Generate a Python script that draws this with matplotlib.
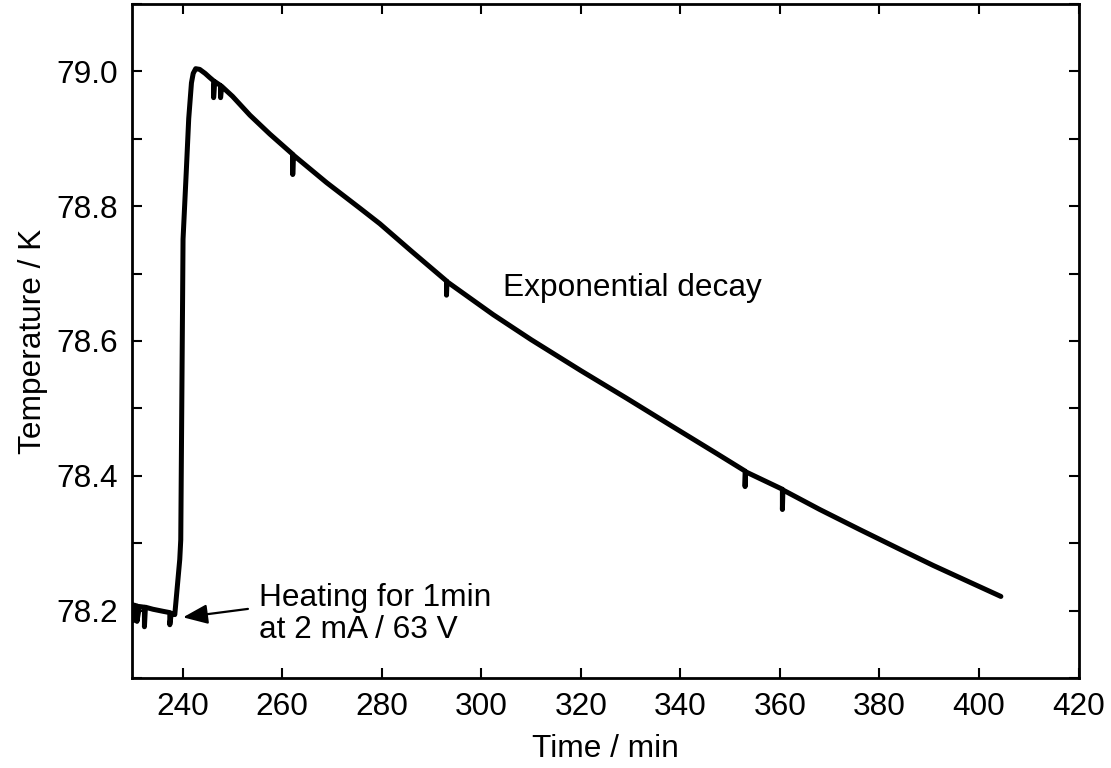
import matplotlib
matplotlib.use("Agg")
import matplotlib.pyplot as plt
from matplotlib.ticker import MultipleLocator

plt.rcParams['font.family'] = ['Liberation Sans', 'DejaVu Sans']

# Time (min) and temperature (K) (spikes included)
time_min = [229.9, 229.9, 230.3, 230.3, 230.8, 230.8, 231.3, 232.3, 232.3, 232.5,
            234.0, 236.0, 237.4, 237.4, 237.7, 238.4, 239.4, 239.6, 240.06, 240.7,
            241.2, 241.75, 242.1, 242.6, 243.4, 244.5, 245.4, 246.2, 246.2, 246.4,
            247.6, 247.6, 247.8, 250.0, 253.5, 257.5, 262.1, 262.1, 262.2, 268.9,
            275.6, 279.6, 286.0, 293.0, 293.0, 293.1, 302.4, 310.0, 320.0, 329.2,
            338.0, 347.3, 353.0, 353.0, 353.1, 360.5, 360.5, 360.6, 368.0, 376.1,
            384.1, 390.8, 397.0, 404.4]
temp_K = [78.209, 78.185, 78.208, 78.186, 78.207, 78.184, 78.206, 78.205, 78.176, 78.205,
          78.202, 78.199, 78.197, 78.179, 78.196, 78.194, 78.276, 78.305, 78.751, 78.850,
          78.930, 78.983, 78.997, 79.004, 79.003, 78.997, 78.991, 78.986, 78.961, 78.985,
          78.979, 78.961, 78.978, 78.963, 78.935, 78.907, 78.877, 78.847, 78.876, 78.835,
          78.797, 78.774, 78.733, 78.689, 78.668, 78.688, 78.639, 78.602, 78.556, 78.515,
          78.475, 78.433, 78.407, 78.384, 78.406, 78.380, 78.350, 78.379, 78.350, 78.320,
          78.291, 78.267, 78.246, 78.221]

x_ticks = [240, 260, 280, 300, 320, 340, 360, 380, 400, 420]
y_ticks = [78.2, 78.4, 78.6, 78.8, 79.0]
y_minor_step = 0.1

label_decay = "Exponential decay"
label_heat = "Heating for 1min\nat 2 mA / 63 V"
decay_pos = (304.4, 78.6665)
heat_text_pos = (255.4, 78.1593)
arrow_tail = (253.1, 78.2025)
arrow_tip = (240.06, 78.190)

fig = plt.figure(figsize=(11.11, 7.68), dpi=100)
ax = fig.add_axes([0.1188, 0.1172, 0.8524, 0.8776])

ax.plot(time_min, temp_K, color='black', lw=3.6, solid_joinstyle='round',
        solid_capstyle='round')

ax.set_xlim(229.8, 420.1)
ax.set_ylim(78.1, 79.1)
ax.set_xticks(x_ticks)
ax.set_yticks(y_ticks)
ax.yaxis.set_minor_locator(MultipleLocator(y_minor_step))
ax.set_yticklabels([f"{v:.1f}" for v in y_ticks])

fs = 22.8
ax.tick_params(axis='both', which='both', direction='in', top=True, right=True,
               length=7.2, width=1.5, labelsize=fs, pad=10)
for s in ax.spines.values():
    s.set_linewidth(2.0)

ax.set_xlabel("Time / min", fontsize=fs, labelpad=9)
ax.set_ylabel("Temperature / K", fontsize=fs, labelpad=6)

ax.text(decay_pos[0], decay_pos[1], label_decay, fontsize=fs, ha='left', va='baseline')
ax.text(heat_text_pos[0], heat_text_pos[1], label_heat, fontsize=fs, ha='left',
        va='baseline', linespacing=1.1)
ax.annotate('', xy=arrow_tip, xytext=arrow_tail,
            arrowprops=dict(arrowstyle='-|>,head_length=0.75,head_width=0.3',
                            mutation_scale=20, color='black', lw=1.6,
                            shrinkA=0, shrinkB=0))

fig.savefig("out.png", dpi=100)
